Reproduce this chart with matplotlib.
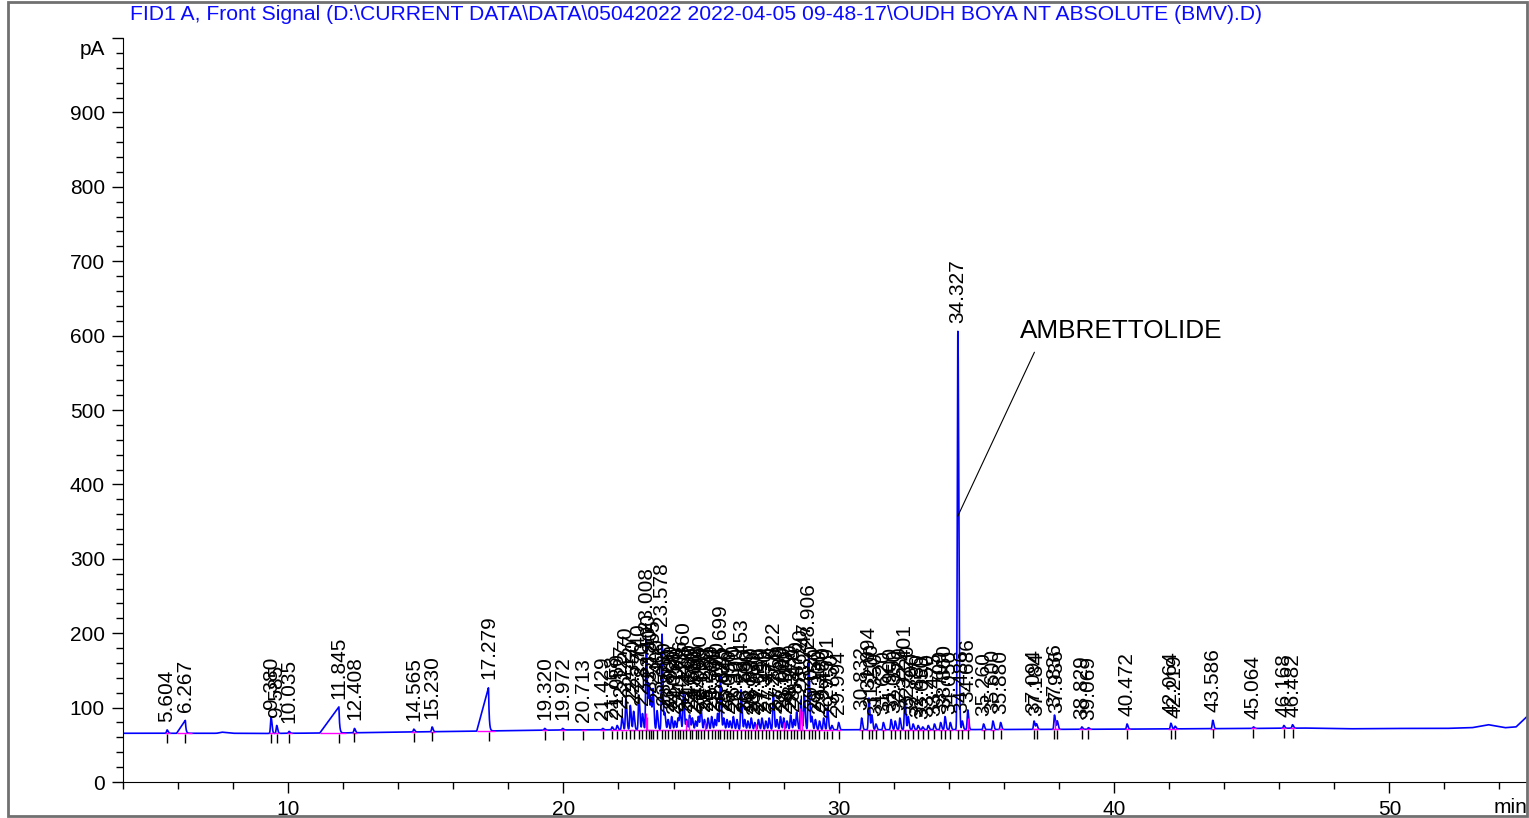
import numpy as np
import matplotlib.pyplot as plt
from matplotlib.patches import Rectangle
from matplotlib.ticker import MultipleLocator

plt.rcParams['font.family'] = ['Liberation Sans', 'DejaVu Sans']

TITLE = "FID1 A, Front Signal (D:\\CURRENT DATA\\DATA\\05042022 2022-04-05 09-48-17\\OUDH BOYA NT ABSOLUTE (BMV).D)"

# baseline drift (min, pA)
base_t = [4.0, 7.4, 7.6, 8.0, 9.0, 10.0, 12.0, 14.0, 16.0, 18.0, 20.0, 25.0, 30.0, 35.0,
          40.0, 45.0, 47.0, 48.5, 50.0, 52.0, 53.0, 53.6, 54.2, 54.6, 55.0]
base_y = [65.5, 65.5, 67.0, 65.5, 65.2, 65.5, 66.0, 67.0, 68.0, 69.0, 70.0, 70.5, 70.2,
          70.5, 71.0, 72.0, 72.5, 71.5, 72.0, 72.0, 73.0, 77.0, 73.0, 74.0, 88.0]

# labelled peaks: retention time (min) and apex (pA)
peak_rt = [5.604, 9.380, 9.585, 10.035, 12.408, 14.565, 15.230,
           19.320, 19.972, 20.713, 21.429, 21.768, 21.950, 22.127, 22.270, 22.427,
           22.550, 22.740, 22.870, 23.008, 23.100, 23.180, 23.255, 23.400, 23.578,
           23.680, 23.800, 23.930, 24.050, 24.160, 24.236, 24.360, 24.470, 24.580,
           24.680, 24.800, 24.900, 24.990, 25.120, 25.250, 25.380, 25.500, 25.600,
           25.699, 25.820, 25.940, 26.050, 26.170, 26.300, 26.453, 26.580, 26.700,
           26.820, 26.950, 27.080, 27.210, 27.350, 27.470, 27.622, 27.750, 27.880,
           28.000, 28.120, 28.250, 28.370, 28.470, 28.620, 28.747, 28.906, 29.020,
           29.150, 29.300, 29.450, 29.591, 29.750, 29.994,
           30.832, 31.094, 31.200, 31.350, 31.620, 31.900, 32.050, 32.220, 32.401,
           32.520, 32.700, 32.880, 33.050, 33.250, 33.475, 33.700, 33.860, 34.050,
           34.327, 34.486, 34.686, 35.260, 35.600, 35.880, 37.094, 37.184, 37.836,
           37.936, 38.829, 39.069, 40.472, 42.064, 42.219, 43.586, 45.064, 46.168,
           46.482]
peak_top = [70, 87, 76, 68, 72, 71, 74,
            72, 72, 70, 72, 74, 76, 88, 112, 103,
            95, 117, 92, 192, 130, 110, 122, 96, 199,
            92, 84, 88, 82, 86, 95, 120, 84, 90,
            86, 82, 88, 102, 84, 86, 88, 84, 92,
            142, 86, 84, 82, 88, 84, 124, 84, 82,
            86, 80, 84, 86, 82, 86, 120, 84, 88,
            86, 82, 90, 84, 94, 110, 118, 170, 88,
            84, 82, 86, 100, 76, 80,
            86, 113, 90, 78, 80, 84, 82, 86, 115,
            88, 78, 76, 74, 76, 78, 80, 88, 80,
            606, 82, 97, 78, 82, 80, 82, 78, 90,
            82, 74, 73, 78, 79, 75, 83, 74, 76,
            77]

# fronted peaks (slow rise, sharp drop)
front_rt = [6.267, 11.845, 17.279]
front_start = [5.95, 11.15, 16.85]
front_top = [83, 101, 127]

# pink drop lines of the integration
drop_rt = [22.99, 23.05, 24.45, 24.55, 25.15, 27.00, 28.00, 28.60, 28.66, 34.70, 37.85]
drop_top = [93, 88, 84, 86, 80, 78, 80, 100, 95, 86, 84]


def baseline(x):
    return np.interp(x, base_t, base_y)


t = np.arange(4.0, 55.0005, 0.004)
sig = baseline(t)
for rt, top in zip(peak_rt, peak_top):
    h = top - baseline(rt)
    s = np.where(t < rt, 0.02, 0.034)
    sig += h * np.exp(-0.5 * ((t - rt) / s) ** 2)
for rt, st, top in zip(front_rt, front_start, front_top):
    h = top - baseline(rt)
    ramp = np.where((t >= st) & (t <= rt), (t - st) / (rt - st), 0.0)
    tail = np.where(t > rt, np.exp(-(t - rt) / 0.025), 0.0)
    sig += h * (ramp + tail)

fig = plt.figure(figsize=(15.29, 8.18), dpi=100)
ax = fig.add_axes([0.0804, 0.044, 0.9183, 0.9095])

ax.plot(t, sig, color='#0000ff', lw=1.2, zorder=2)

# integration baselines
for rt in peak_rt:
    b = baseline(rt)
    ax.hlines(b, rt - 0.09, rt + 0.09, colors='#ff00ff', lw=1.0, zorder=3)
for rt, st in zip(front_rt, front_start):
    ax.hlines(baseline(rt), st, rt + 0.25, colors='#ff00ff', lw=1.0, zorder=3)
ax.vlines(drop_rt, baseline(np.array(drop_rt)), drop_top, colors='#ff00ff', lw=1.0, zorder=3)

# retention time marks and labels
all_rt = list(peak_rt) + list(front_rt)
all_top = list(peak_top) + list(front_top)
for rt, top in zip(all_rt, all_top):
    b = baseline(rt)
    ax.vlines(rt, b - 13, b - 1, colors='black', lw=1.0, zorder=4)
    ax.text(rt, top + 11, f"{rt:.3f}", rotation=90, ha='center', va='bottom',
            fontsize=15, color='black', zorder=5)

ax.annotate('AMBRETTOLIDE', xy=(34.32, 357), xytext=(36.6, 606),
            textcoords='data', ha='left', va='center', fontsize=18.8,
            arrowprops=dict(arrowstyle='-', color='black', lw=0.8,
                            relpos=(0.09, 0.0), shrinkA=5, shrinkB=0))

ax.set_xlim(4, 55)
ax.set_ylim(0, 1000)
ax.spines['top'].set_visible(False)
ax.spines['right'].set_visible(False)
ax.xaxis.set_major_locator(MultipleLocator(10))
ax.xaxis.set_minor_locator(MultipleLocator(2))
ax.yaxis.set_major_locator(MultipleLocator(100))
ax.yaxis.set_minor_locator(MultipleLocator(20))
ax.set_yticks(range(0, 1001, 100))
ax.set_yticklabels([str(v) for v in range(0, 1000, 100)] + [''])
ax.tick_params(axis='both', which='major', direction='out', length=8, width=1, labelsize=15, pad=5)
ax.tick_params(axis='both', which='minor', direction='out', length=5, width=1)
ax.text(-0.013, 0.985, 'pA', transform=ax.transAxes, ha='right', va='center', fontsize=15)
ax.text(1.0, -0.022, 'min', transform=ax.transAxes, ha='right', va='top', fontsize=15)

fig.text(130 / 1529, 1 - 15 / 818, TITLE, color='#0a0aff', fontsize=15.2, ha='left', va='center')
fig.patches.append(Rectangle((0.0052, 0.0024), 0.9935, 0.9952, transform=fig.transFigure,
                             fill=False, edgecolor='#707070', lw=2))

fig.savefig('out.png', dpi=100)
